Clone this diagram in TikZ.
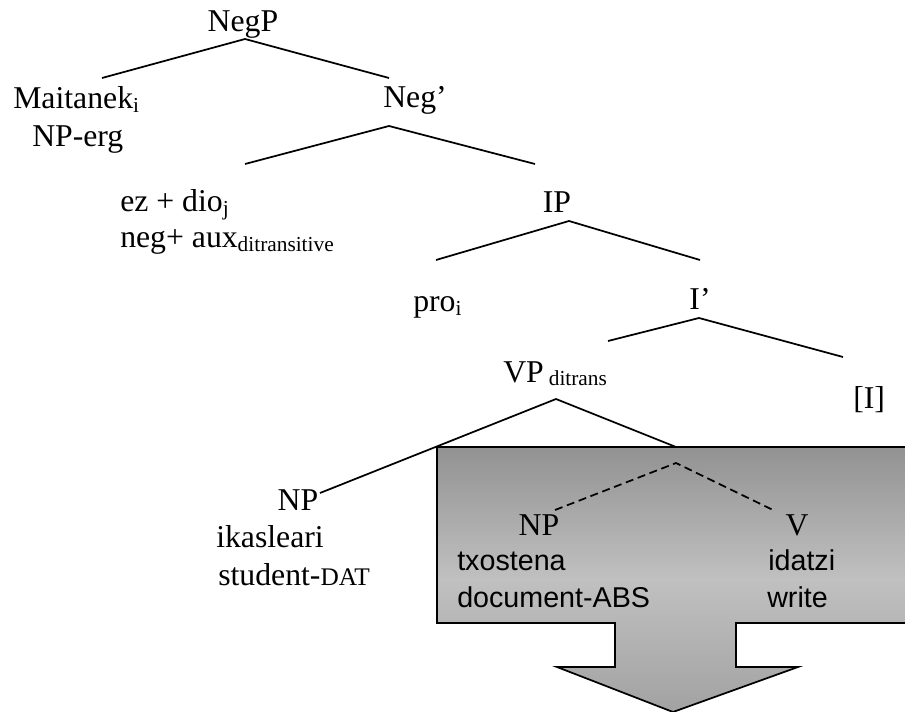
\documentclass[tikz,border=0pt]{standalone}
\usepackage{fontspec}
\setmainfont{Liberation Serif}
\newfontfamily\sansfont{Liberation Sans}
% lowered, reduced index text
\newcommand\sbs[1]{\raisebox{-2.3pt}{\fontsize{16}{16}\selectfont #1}}
% reduced capitals for glosses
\newcommand\glosscaps[1]{{\fontsize{19}{19}\selectfont #1}}

\definecolor{boxtop}{HTML}{929292}
\definecolor{boxmid}{HTML}{C0C0C0}
\definecolor{boxbot}{HTML}{A2A2A2}
% dark at the top, light in the middle, a little darker at the tip
\pgfdeclareverticalshading{boxshade}{100bp}{%
  color(0bp)=(boxbot); color(25bp)=(boxbot); color(50bp)=(boxmid);
  color(75bp)=(boxtop); color(100bp)=(boxtop)}

\begin{document}
\begin{tikzpicture}[x=0.75pt,y=-0.75pt,
  every node/.style={inner sep=0pt, font=\fontsize{23.8}{28}\selectfont},
  lbl/.style={anchor=base west},
  clbl/.style={anchor=base},
  sanslbl/.style={anchor=base west, font=\fontsize{21.5}{25}\selectfont\sansfont},
  branch/.style={line width=1.3pt},
  hidden/.style={line width=1.3pt, dash pattern=on 6pt off 3.5pt},
  bigarrow/.style={draw=black, line width=1.3pt, shading=boxshade}
]
\useasboundingbox (0,0) rectangle (905,712);
\clip (0,0) rectangle (905,712);

% block arrow behind the lower part of the tree
\coordinate (bx-tl) at (437,447);
\coordinate (bx-tr) at (915,447);
\coordinate (bx-br) at (915,623);
\coordinate (bx-sr) at (736,623);
\coordinate (bx-hr) at (736,667);
\coordinate (bx-wr) at (798,667);
\coordinate (bx-tip) at (673,712);
\coordinate (bx-wl) at (557,667);
\coordinate (bx-hl) at (615,667);
\coordinate (bx-sl) at (615,623);
\coordinate (bx-bl) at (437,623);
\path[bigarrow] (bx-tl) -- (bx-tr) -- (bx-br) -- (bx-sr) -- (bx-hr) -- (bx-wr)
  -- (bx-tip) -- (bx-wl) -- (bx-hl) -- (bx-sl) -- (bx-bl) -- cycle;

% labels
\node[clbl] (negp) at (243,32) {NegP};
\node[lbl] (maitanek) at (13,109) {Maitanek\sbs{i}};
\node[lbl] (nperg) at (32,147) {NP-erg};
\node[clbl] (negbar) at (415,108) {Neg’};
\node[lbl] (ezdio) at (120,212) {ez + dio\sbs{j}};
\node[lbl] (negaux) at (120,248) {neg+ aux\sbs{ditransitive}};
\node[clbl] (ip) at (557,213) {IP};
\node[lbl] (pro) at (413,312) {pro\sbs{i}};
\node[clbl] (ibar) at (700,310) {I’};
\node[lbl] (vp) at (503,382) {VP\hspace{3.75pt}\sbs{ditrans}};
\node[lbl] (infl) at (853,408) {[I]};
\node[clbl] (npdat) at (298,510) {NP};
\node[lbl] (ikasleari) at (216,547) {ikasleari};
\node[lbl] (student) at (218,585) {student-\glosscaps{DAT}};
\node[clbl] (npabs) at (539,535) {NP};
\node[sanslbl] (txostena) at (457,570) {txostena};
\node[sanslbl] (document) at (457,607) {document-ABS};
\node[clbl] (verb) at (797,535) {V};
\node[sanslbl] (idatzi) at (768,570) {idatzi};
\node[sanslbl] (write) at (767,607) {write};

% branch points
\coordinate (negp-b) at (245,39);
\coordinate (negp-l) at (102,78);
\coordinate (negp-r) at (389,78);
\coordinate (negbar-b) at (389,126);
\coordinate (negbar-l) at (245,164);
\coordinate (negbar-r) at (535,164);
\coordinate (ip-b) at (569,221);
\coordinate (ip-l) at (436,260);
\coordinate (ip-r) at (700,260);
\coordinate (ibar-b) at (699,318);
\coordinate (ibar-l) at (608,341);
\coordinate (ibar-r) at (843,357);
\coordinate (vp-b) at (556,399);
\coordinate (vp-l) at (320,493);
\coordinate (vp-r) at (676,447);
\coordinate (vbar-b) at (676,463);
\coordinate (vbar-l) at (555,510);
\coordinate (vbar-r) at (773,510);

\draw[branch] (negp-l) -- (negp-b) -- (negp-r);
\draw[branch] (negbar-l) -- (negbar-b) -- (negbar-r);
\draw[branch] (ip-l) -- (ip-b) -- (ip-r);
\draw[branch] (ibar-l) -- (ibar-b) -- (ibar-r);
\draw[branch] (vp-l) -- (vp-b) -- (vp-r);
\draw[hidden] (vbar-l) -- (vbar-b) -- (vbar-r);
\end{tikzpicture}
\end{document}
